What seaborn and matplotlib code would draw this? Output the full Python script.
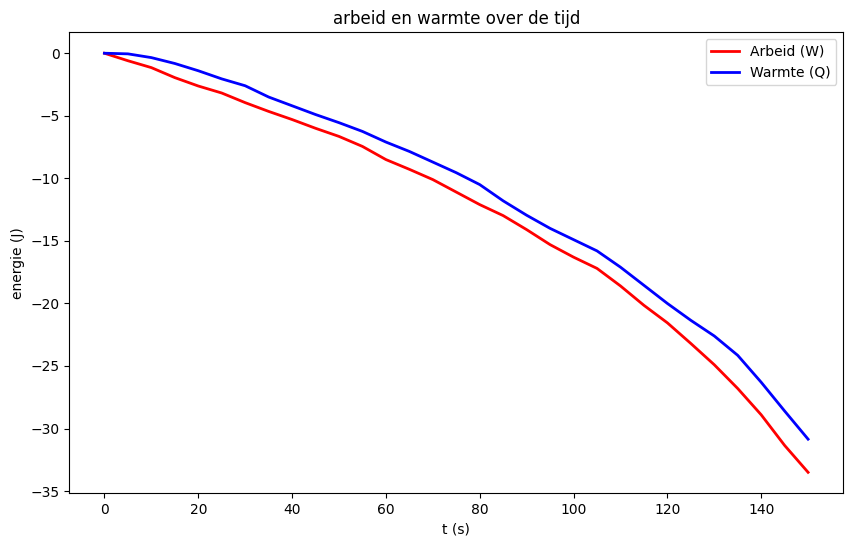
import matplotlib
matplotlib.use("Agg")
import matplotlib.pyplot as plt
import pandas as pd
import seaborn as sns

# tijd in seconden (stappen van 5 s)
t = [0, 5, 10, 15, 20, 25, 30, 35, 40, 45, 50, 55, 60, 65, 70, 75,
     80, 85, 90, 95, 100, 105, 110, 115, 120, 125, 130, 135, 140, 145, 150]

arbeid = [0.0, -0.6, -1.15, -1.95, -2.62, -3.18, -3.95, -4.65, -5.3, -6.0,
          -6.65, -7.45, -8.5, -9.28, -10.1, -11.1, -12.1, -12.98, -14.1, -15.3,
          -16.3, -17.2, -18.6, -20.15, -21.55, -23.2, -24.9, -26.8, -28.9,
          -31.35, -33.5]

warmte = [0.0, -0.05, -0.35, -0.82, -1.4, -2.05, -2.6, -3.5, -4.2, -4.9,
          -5.55, -6.25, -7.1, -7.85, -8.7, -9.55, -10.5, -11.8, -12.95, -14.0,
          -14.9, -15.8, -17.1, -18.55, -20.0, -21.35, -22.6, -24.15, -26.3,
          -28.6, -30.85]

labels = ['Arbeid (W)', 'Warmte (Q)']

df = pd.DataFrame({
    't': t + t,
    'energie': arbeid + warmte,
    'soort': [labels[0]] * len(t) + [labels[1]] * len(t),
})

fig = plt.figure(figsize=(8.53, 5.47), dpi=100)
ax = fig.add_axes([0.0812, 0.0982, 0.9074, 0.8428])

sns.lineplot(ax=ax, data=df, x='t', y='energie', hue='soort',
             palette={labels[0]: 'red', labels[1]: 'blue'}, linewidth=2)

ax.set_title('arbeid en warmte over de tijd')
ax.set_xlabel('t (s)')
ax.set_ylabel('energie (J)')
ax.legend(loc='upper right')

fig.savefig('out.png', dpi=100)
